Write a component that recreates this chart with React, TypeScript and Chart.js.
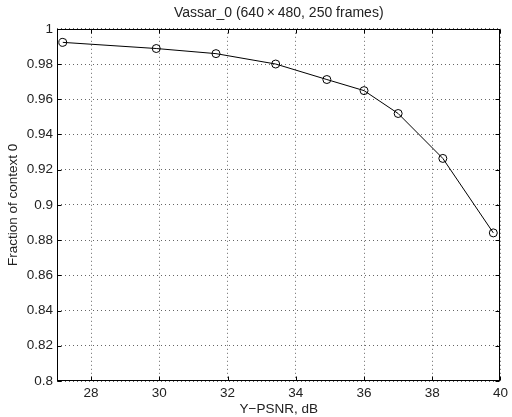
import React, { useEffect, useRef } from "react";
import { Chart, registerables } from "chart.js";

Chart.register(...registerables);

const psnr = [27.17, 29.91, 31.66, 33.41, 34.91, 36.0, 37.0, 38.31, 39.79];
const fraction = [0.9923, 0.9888, 0.9859, 0.98, 0.9712, 0.9649, 0.9519, 0.9264, 0.8841];
const xTickValues = [28, 30, 32, 34, 36, 38, 40];
const yTickValues = [0.8, 0.82, 0.84, 0.86, 0.88, 0.9, 0.92, 0.94, 0.96, 0.98, 1];
const titleText = "Vassar_0 (640\u2009\u00d7\u2009480, 250 frames)";
const xLabel = "Y\u2212PSNR, dB";
const yLabel = "Fraction of context 0";

const FONT = "'Liberation Sans', Arial, Helvetica, sans-serif";
const TEXT = "#222";

const framePlugin = {
  id: "matlabFrame",
  afterLayout(chart: any) {
    const tb = chart.titleBlock;
    if (tb) {
      tb.left = chart.chartArea.left;
      tb.right = chart.chartArea.right;
      tb.width = tb.right - tb.left;
    }
  },
  afterDraw(chart: any) {
    const { ctx, chartArea: a, scales } = chart;
    ctx.save();
    ctx.strokeStyle = "#000";
    ctx.lineWidth = 1;
    const L = Math.round(a.left) + 0.5;
    const R = Math.round(a.right) - 0.5;
    const T = Math.round(a.top) + 0.5;
    const B = Math.round(a.bottom) - 0.5;
    ctx.strokeRect(L, T, R - L, B - T);
    const tl = 4;
    ctx.beginPath();
    xTickValues.forEach((v) => {
      const px = Math.round(scales.x.getPixelForValue(v)) + 0.5;
      ctx.moveTo(px, B);
      ctx.lineTo(px, B - tl);
      ctx.moveTo(px, T);
      ctx.lineTo(px, T + tl);
    });
    yTickValues.forEach((v) => {
      const py = Math.round(scales.y.getPixelForValue(v)) + 0.5;
      ctx.moveTo(L, py);
      ctx.lineTo(L + tl, py);
      ctx.moveTo(R, py);
      ctx.lineTo(R - tl, py);
    });
    ctx.stroke();
    ctx.restore();
  },
};

export default function App() {
  const ref = useRef<HTMLCanvasElement | null>(null);
  useEffect(() => {
    if (!ref.current) return;
    const chart = new Chart(ref.current, {
      type: "line",
      data: {
        datasets: [
          {
            data: psnr.map((x, i) => ({ x, y: fraction[i] })),
            borderColor: "#000",
            borderWidth: 1,
            backgroundColor: "rgba(0,0,0,0)",
            pointStyle: "circle",
            pointRadius: 4,
            pointBorderWidth: 1,
            pointBorderColor: "#000",
            pointBackgroundColor: "rgba(0,0,0,0)",
            tension: 0,
          },
        ],
      },
      options: {
        animation: false,
        responsive: false,
        layout: { padding: { top: 0, right: 7, bottom: 0, left: 0 } },
        plugins: {
          legend: { display: false },
          tooltip: { enabled: false },
          title: {
            display: true,
            text: titleText,
            color: TEXT,
            font: { family: FONT, size: 14, weight: "normal" },
            padding: { top: 5, bottom: 7 },
          },
        },
        scales: {
          x: {
            type: "linear",
            min: 27,
            max: 40,
            afterBuildTicks: (s: any) => {
              s.ticks = xTickValues.map((v) => ({ value: v }));
            },
            afterFit: (s: any) => {
              s.height = 36;
            },
            grid: {
              color: "rgba(0,0,0,0.6)",
              lineWidth: 1,
              drawTicks: false,
            },
            border: { display: false, dash: [1, 3] },
            ticks: {
              color: TEXT,
              font: { family: FONT, size: 13.5 },
              padding: 4,
              maxRotation: 0,
              callback: (v: any) => String(v),
            },
            title: {
              display: true,
              text: xLabel,
              color: TEXT,
              font: { family: FONT, size: 13.5 },
              padding: { top: 0, bottom: 0 },
            },
          },
          y: {
            type: "linear",
            min: 0.8,
            max: 1,
            afterBuildTicks: (s: any) => {
              s.ticks = yTickValues.map((v) => ({ value: v }));
            },
            afterFit: (s: any) => {
              s.width = 57;
            },
            grid: {
              color: "rgba(0,0,0,0.6)",
              lineWidth: 1,
              drawTicks: false,
            },
            border: { display: false, dash: [1, 3] },
            ticks: {
              color: TEXT,
              font: { family: FONT, size: 13.5 },
              padding: 4,
              callback: (v: any) => String(+Number(v).toFixed(2)),
            },
            title: {
              display: true,
              text: yLabel,
              color: TEXT,
              font: { family: FONT, size: 13.5 },
              padding: { top: 5, bottom: 0 },
            },
          },
        },
      },
      plugins: [framePlugin],
    } as any);
    return () => chart.destroy();
  }, []);
  return (
    <div style={{ position: "fixed", left: 0, top: 0, width: 512, height: 417, background: "#fff" }}>
      <canvas ref={ref} width={512} height={417} style={{ display: "block" }} />
    </div>
  );
}
